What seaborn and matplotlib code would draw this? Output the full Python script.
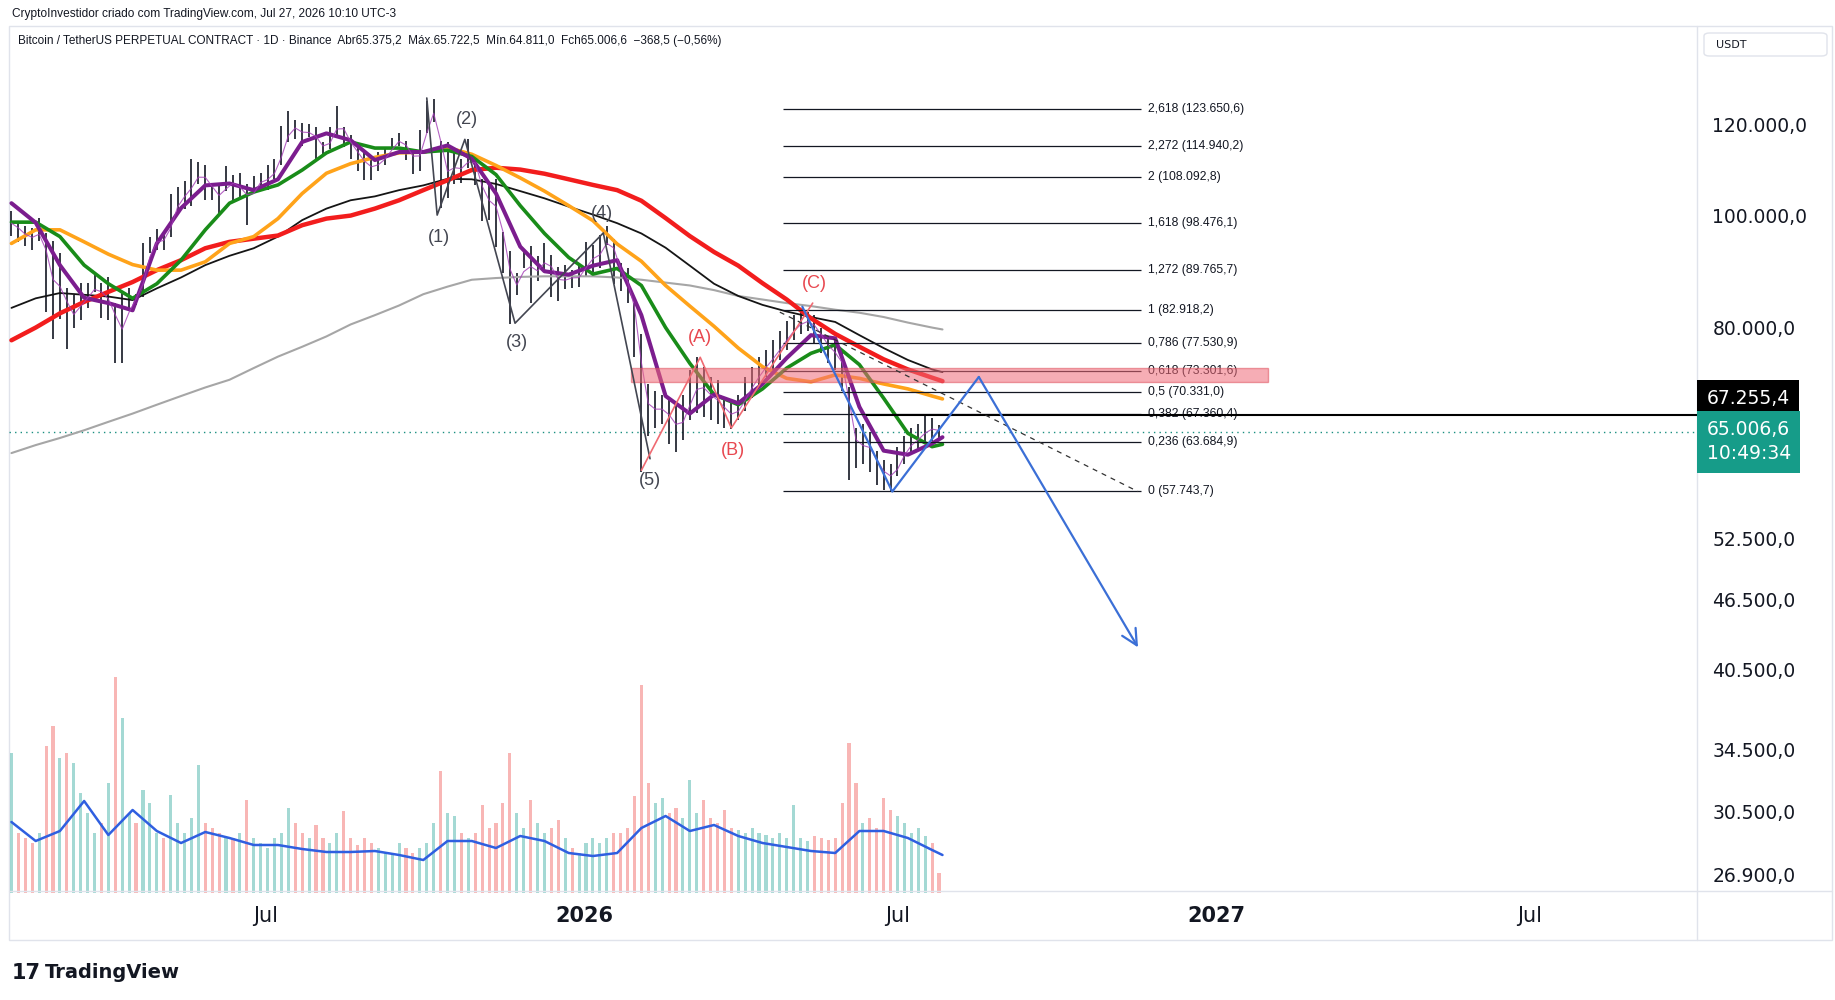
import numpy as np
import pandas as pd
import seaborn as sns
import matplotlib.pyplot as plt
import matplotlib.dates as mdates
import matplotlib.transforms as mtransforms
from matplotlib.patches import Rectangle, FancyBboxPatch
from matplotlib.lines import Line2D
from matplotlib.ticker import NullLocator

# ---------------- data ----------------
# price bars, one every 4 days, thousand USDT
BAR_START = "2025-02-04"
bar_high = [
    101.0, 98.5, 98.0, 97.5, 99.5, 96.5, 95.0, 92.8, 86.5, 85.3,
    87.4, 87.5, 88.8, 87.5, 88.5, 84.0, 85.9, 86.5, 85.6, 94.7,
    95.8, 97.4, 96.5, 104.3, 105.8, 107.1, 111.9, 111.3, 110.7, 106.8,
    106.0, 110.4, 108.5, 108.9, 106.5, 108.1, 108.8, 110.5, 111.9, 119.5,
    123.2, 120.9, 120.2, 120.0, 119.2, 115.8, 119.3, 124.5, 119.2, 117.4,
    115.6, 113.5, 112.6, 113.4, 114.5, 116.8, 117.9, 116.0, 114.0, 118.7,
    125.7, 126.2, 116.0, 115.9, 114.0, 112.0, 116.4, 111.6, 107.5, 106.7,
    107.5, 96.8, 93.2, 89.2, 93.1, 94.2, 92.3, 94.6, 92.5, 90.3,
    90.6, 89.7, 90.4, 94.8, 94.4, 96.2, 97.9, 95.5, 91.0, 90.0,
    84.0, 79.0, 71.5, 70.5, 70.0, 69.5, 68.5, 70.0, 73.5, 75.4,
    74.0, 72.5, 72.0, 69.5, 69.0, 70.0, 72.5, 74.0, 75.5, 76.5,
    78.0, 79.5, 81.0, 82.0, 82.9, 82.5, 82.0, 80.0, 78.5, 78.0,
    76.5, 71.0, 65.5, 66.0, 65.0, 62.5, 61.5, 61.0, 63.0, 64.5,
    65.5, 66.0, 67.3, 66.8, 65.9,
]
bar_low = [
    96.0, 94.8, 94.1, 93.4, 95.0, 82.5, 78.2, 81.4, 76.6, 80.0,
    81.2, 83.2, 85.8, 81.6, 81.2, 74.5, 74.6, 83.0, 83.6, 85.0,
    92.8, 93.4, 93.4, 95.8, 101.0, 101.4, 102.0, 106.6, 103.1, 103.2,
    100.4, 105.0, 102.8, 103.4, 98.2, 105.2, 105.2, 105.2, 107.5, 110.5,
    115.7, 116.5, 114.8, 117.0, 112.0, 112.5, 114.3, 117.2, 114.7, 112.0,
    109.3, 107.4, 107.3, 109.3, 110.6, 114.3, 114.8, 111.7, 108.6, 109.2,
    118.0, 120.6, 101.5, 103.5, 106.6, 106.7, 110.0, 106.3, 98.9, 99.2,
    94.0, 89.2, 80.6, 85.3, 90.1, 84.0, 87.8, 89.3, 85.0, 84.4,
    86.4, 86.6, 86.8, 88.5, 89.3, 90.0, 94.4, 87.3, 86.0, 84.0,
    75.5, 60.0, 64.5, 65.5, 66.0, 63.5, 62.4, 64.0, 66.5, 67.5,
    67.0, 66.5, 66.0, 65.5, 65.3, 66.5, 67.8, 69.5, 71.0, 72.5,
    73.5, 75.0, 76.5, 78.0, 79.0, 79.5, 77.5, 76.0, 74.5, 73.5,
    70.5, 59.0, 60.5, 61.0, 60.0, 58.5, 57.9, 57.7, 59.5, 61.0,
    62.0, 62.5, 63.5, 63.8, 64.2,
]
# relative volume (largest day inside each 4-day bar)
bar_volume = [
    140, 60, 55, 50, 60, 147, 167, 135, 140, 130,
    100, 80, 60, 70, 110, 216, 175, 80, 70, 103,
    90, 60, 55, 98, 70, 60, 75, 128, 70, 65,
    60, 55, 55, 60, 93, 55, 50, 45, 55, 60,
    85, 70, 60, 55, 68, 55, 50, 60, 82, 55,
    48, 55, 50, 45, 40, 40, 50, 45, 40, 45,
    50, 70, 122, 80, 77, 60, 55, 60, 88, 65,
    70, 90, 140, 80, 65, 93, 70, 60, 65, 73,
    55, 45, 40, 50, 55, 50, 55, 60, 60, 65,
    97, 208, 110, 90, 95, 80, 85, 75, 113, 80,
    93, 75, 70, 83, 65, 63, 60, 65, 60, 58,
    55, 60, 55, 88, 55, 52, 57, 55, 53, 55,
    90, 150, 110, 70, 75, 65, 95, 83, 77, 70,
    60, 65, 57, 50, 20,
]

# moving averages sampled every 14 days from MA_START, plus the last day
MA_START = "2025-02-04"
LAST_DAY = "2026-07-27"
ma_purple = [102.5, 98.6, 90.6, 84.9, 84.0, 82.8, 94.6, 101.5, 106.2, 106.6,
             105.2, 107.5, 115.8, 117.8, 116.2, 111.7, 113.5, 113.5, 115.0, 112.0,
             104.5, 94.0, 89.5, 88.9, 90.5, 91.5, 82.0, 69.8, 67.4, 70.0,
             68.8, 71.5, 75.3, 78.8, 78.3, 68.3, 62.6, 62.1, 63.5, 64.3]
ma_green = [98.7, 98.7, 95.9, 90.6, 87.3, 84.8, 87.3, 91.5, 97.2, 102.5,
            104.8, 106.3, 109.5, 113.3, 115.8, 114.4, 114.4, 113.5, 113.9, 112.5,
            108.5, 102.0, 96.5, 92.0, 89.0, 90.0, 87.0, 80.0, 74.5, 70.0,
            68.6, 70.8, 73.8, 76.0, 77.3, 74.3, 69.5, 64.8, 63.1, 63.4]
ma_orange = [94.6, 97.2, 97.2, 94.9, 92.6, 90.7, 89.7, 89.7, 91.2, 94.6,
             95.9, 99.4, 104.5, 108.8, 110.9, 112.3, 113.3, 113.5, 114.5, 113.0,
             110.5, 107.8, 105.0, 102.0, 99.0, 94.5, 91.3, 87.0, 83.5, 80.2,
             76.8, 74.0, 72.3, 71.8, 72.8, 72.3, 71.5, 70.8, 69.8, 69.4]
ma_red = [78.0, 80.0, 82.3, 84.2, 85.9, 87.6, 89.7, 91.5, 93.7, 94.9,
          95.5, 96.1, 98.1, 99.4, 100.0, 101.4, 103.1, 105.2, 107.3, 109.5,
          110.0, 109.6, 108.7, 107.5, 106.3, 105.2, 103.0, 99.5, 96.0, 93.0,
          90.5, 87.4, 84.6, 81.5, 79.0, 77.0, 75.1, 73.6, 72.4, 71.9]
ma_black = [83.2, 84.8, 85.7, 85.4, 85.1, 84.5, 86.5, 88.4, 90.6, 92.3,
            93.7, 95.9, 99.1, 101.4, 103.1, 103.9, 105.2, 106.2, 107.6, 107.5,
            106.5, 105.0, 103.5, 101.8, 100.2, 98.5, 96.5, 93.8, 90.5, 87.3,
            85.2, 83.7, 82.6, 81.7, 80.9, 78.8, 76.8, 75.0, 73.6, 73.2]
ma_grey = [62.3, 63.3, 64.2, 65.2, 66.3, 67.4, 68.6, 69.8, 71.0, 72.1,
           73.8, 75.5, 77.0, 78.6, 80.5, 82.0, 83.6, 85.5, 86.8, 88.0,
           88.3, 88.5, 88.6, 88.6, 88.6, 88.4, 88.0, 87.5, 87.0, 86.2,
           85.2, 84.6, 84.0, 83.5, 82.9, 82.4, 81.7, 80.8, 80.0, 79.7]
vol_ma = [71, 52, 62, 92, 58, 83, 62, 50, 61, 55,
          48, 48, 44, 41, 41, 42, 38, 33, 52, 52,
          45, 57, 52, 40, 37, 40, 65, 77, 62, 68,
          57, 50, 46, 42, 40, 62, 62, 55, 43, 38]

# fibonacci extension
fib_ratio = [2.618, 2.272, 2, 1.618, 1.272, 1, 0.786, 0.618, 0.5, 0.382, 0.236, 0]
fib_price = [123650.6, 114940.2, 108092.8, 98476.1, 89765.7, 82918.2,
             77530.9, 73301.6, 70331.0, 67360.4, 63684.9, 57743.7]
FIB_START, FIB_END, FIB_LABEL = "2026-04-26", "2026-11-19", "2026-11-23"
zone_dates = ["2026-01-28", "2027-01-31"]
zone_prices = [71800, 73800]

# elliott count and projection drawings
wave_dates = ["2025-10-02", "2025-10-08", "2025-10-24", "2025-11-22", "2026-01-12", "2026-02-08"]
wave_prices = [126400, 100100, 116400, 80700, 96600, 61600]
wave_text = ["(1)", "(2)", "(3)", "(4)", "(5)"]
wave_text_dates = ["2025-10-09", "2025-10-25", "2025-11-23", "2026-01-11", "2026-02-08"]
wave_text_prices = [95800, 121200, 77600, 100500, 59000]
abc_dates = ["2026-02-03", "2026-03-09", "2026-03-27", "2026-05-13"]
abc_prices = [60200, 75400, 65500, 84000]
abc_text = ["(A)", "(B)", "(C)"]
abc_text_dates = ["2026-03-09", "2026-03-28", "2026-05-14"]
abc_text_prices = [78500, 62600, 87400]
proj_dates = ["2026-05-07", "2026-06-28", "2026-08-17", "2026-11-17"]
proj_prices = [83400, 57700, 72500, 42300]
trend_dates = ["2026-04-24", "2026-11-17"]
trend_prices = [82500, 57700]
ray_start, ray_price = "2026-06-13", 67255.4
last_price = 65006.6
countdown = "10:49:34"

price_ticks = [120000, 100000, 80000, 52500, 46500, 40500, 34500, 30500, 26900]
time_ticks = ["2025-07-01", "2026-01-01", "2026-07-01", "2027-01-01", "2027-07-01"]
time_labels = ["Jul", "2026", "Jul", "2027", "Jul"]


def br(v):
    # 123650.6 -> 123.650,6
    return f"{v:,.1f}".replace(",", " ").replace(".", ",").replace(" ", ".")


def dn(s):
    return mdates.date2num(pd.Timestamp(s))


# ---------------- figure ----------------
sns.set_theme(style="white")
plt.rcParams['font.family'] = ['DejaVu Sans']
NARROW = ['Liberation Sans Narrow', 'Liberation Sans', 'DejaVu Sans']
INK = '#131722'

W, H = 1835, 1000
fig = plt.figure(figsize=(W / 100, H / 100), dpi=100, facecolor='white')
L, R, T, B = 9, 1697, 26, 893
rect = [L / W, 1 - B / H, (R - L) / W, (B - T) / H]
ax = fig.add_axes(rect)
axv = fig.add_axes(rect, sharex=ax)
ax.set_zorder(2)
axv.set_zorder(1)
ax.patch.set_visible(False)

bars = pd.DataFrame({
    'date': pd.date_range(BAR_START, periods=len(bar_high), freq='4D'),
    'high': np.array(bar_high) * 1000,
    'low': np.array(bar_low) * 1000,
    'volume': bar_volume,
})
bars['mid'] = (bars['high'] + bars['low']) / 2
bars['fast'] = bars['mid'].rolling(2, min_periods=1).mean()
bars['up'] = bars['mid'].diff().fillna(0) >= 0

ma_dates = list(pd.date_range(MA_START, periods=len(ma_purple) - 1, freq='14D')) + [pd.Timestamp(LAST_DAY)]
ma = pd.DataFrame({'date': ma_dates})
for name, vals in [('purple', ma_purple), ('green', ma_green), ('orange', ma_orange),
                   ('red', ma_red), ('black', ma_black), ('grey', ma_grey)]:
    ma[name] = np.array(vals) * 1000
ma['vol'] = vol_ma

# --- volume pane (bottom of the same chart) ---
axv.bar(bars['date'], bars['volume'], width=1.8, linewidth=0, alpha=0.42,
        color=np.where(bars['up'], '#26a69a', '#ef5350'))
sns.lineplot(data=ma, x='date', y='vol', ax=axv, color='#2f5fe0', linewidth=1.8)
axv.set_ylim(0, B - T)
axv.axis('off')

# --- price ---
ax.set_yscale('log')
ax.vlines(bars['date'], bars['low'], bars['high'], color=INK, linewidth=1.2, zorder=3)

for col, color, lw in [('grey', '#a6a6a6', 1.5), ('black', '#151515', 1.3), ('red', '#f21d1d', 3.2),
                       ('orange', '#ffa31a', 2.6), ('green', '#198c19', 2.6), ('purple', '#7b1d8e', 2.9)]:
    sns.lineplot(data=ma, x='date', y=col, ax=ax, color=color, linewidth=lw, zorder=4)
sns.lineplot(data=bars, x='date', y='fast', ax=ax, color='#a23ab5', linewidth=0.8, alpha=0.8, zorder=4)

# fibonacci levels
ax.hlines(fib_price, pd.Timestamp(FIB_START), pd.Timestamp(FIB_END), color=INK, linewidth=0.9, zorder=5)
for r, p in zip(fib_ratio, fib_price):
    ax.text(dn(FIB_LABEL), p, f"{r:g}".replace('.', ',') + f" ({br(p)})", fontsize=8.7,
            family=NARROW, color=INK, va='center', ha='left', zorder=6)
ax.add_patch(Rectangle((dn(zone_dates[0]), zone_prices[0]), dn(zone_dates[1]) - dn(zone_dates[0]),
                       zone_prices[1] - zone_prices[0], facecolor='#f06b78', alpha=0.55,
                       edgecolor='#e0505e', linewidth=1, zorder=6))

# horizontal ray and last price line
x_right = pd.Timestamp('2027-10-06')
ax.hlines(ray_price, pd.Timestamp(ray_start), x_right, color='black', linewidth=1.5, zorder=6)
ax.axhline(last_price, color='#1a8f80', linewidth=1, linestyle=(0, (1, 3)), zorder=2)

# wave count
ax.plot(pd.to_datetime(wave_dates), wave_prices, color='#434651', linewidth=1.2, zorder=6)
ax.plot(pd.to_datetime(abc_dates), abc_prices, color='#ef6a72', linewidth=1.2, zorder=6)
for t, d, p in zip(wave_text, wave_text_dates, wave_text_prices):
    ax.text(dn(d), p, t, fontsize=13, family=NARROW, color='#434651', ha='center', va='center', zorder=7)
for t, d, p in zip(abc_text, abc_text_dates, abc_text_prices):
    ax.text(dn(d), p, t, fontsize=13, family=NARROW, color='#e8474f', ha='center', va='center', zorder=7)

# projection path + dashed trend line
ax.plot(pd.to_datetime(proj_dates[:3]), proj_prices[:3], color='#3b6fd6', linewidth=1.6, zorder=7)
ax.annotate('', xy=(dn(proj_dates[3]), proj_prices[3]), xytext=(dn(proj_dates[2]), proj_prices[2]),
            arrowprops=dict(arrowstyle='->', color='#3b6fd6', lw=1.6, mutation_scale=28,
                            shrinkA=0, shrinkB=0), zorder=7)
ax.plot(pd.to_datetime(trend_dates), trend_prices, color='#333333', linewidth=0.9,
        linestyle=(0, (4, 4)), zorder=6)

# axes cosmetics
ax.set_ylim(25930, 145900)
ax.set_xlim(pd.Timestamp('2025-02-02 14:00'), x_right)
ax.set_xlabel('')
ax.set_ylabel('')
ax.yaxis.tick_right()
ax.set_yticks(price_ticks, labels=[br(v) for v in price_ticks])
ax.yaxis.set_minor_locator(NullLocator())
ax.tick_params(axis='y', which='both', length=0, pad=11, labelsize=13.5, labelcolor=INK)
ax.set_xticks([dn(d) for d in time_ticks], labels=time_labels)
ax.tick_params(axis='x', length=0, pad=9, labelsize=15, labelcolor=INK)
for lbl in ax.get_xticklabels():
    if lbl.get_text() in ('2026', '2027'):
        lbl.set_fontweight('bold')
for s in ax.spines.values():
    s.set_visible(False)

# price scale labels
trans = mtransforms.blended_transform_factory(ax.transAxes, ax.transData)
ax.annotate(br(ray_price), xy=(1, ray_price), xycoords=trans, xytext=(7, 11.5),
            textcoords='offset points', va='center', ha='left', fontsize=13.5, color='white',
            bbox=dict(boxstyle='square,pad=0.5', fc='black', ec='none'), annotation_clip=False, zorder=9)
ax.annotate(br(last_price) + "\n" + countdown, xy=(1, last_price), xycoords=trans, xytext=(7, 8.5),
            textcoords='offset points', va='top', ha='left', fontsize=13.5, color='white', linespacing=1.35,
            bbox=dict(boxstyle='square,pad=0.5', fc='#169c89', ec='none'), annotation_clip=False, zorder=9)

# pane frame and separators
frame = '#e0e3eb'
fig.add_artist(Rectangle((L / W, 1 - 940 / H), (1832 - L) / W, (940 - T) / H, transform=fig.transFigure,
                         fill=False, edgecolor=frame, linewidth=1))
fig.add_artist(Line2D([R / W, R / W], [1 - 940 / H, 1 - T / H], transform=fig.transFigure, color=frame, lw=1))
fig.add_artist(Line2D([L / W, 1832 / W], [1 - 891 / H, 1 - 891 / H], transform=fig.transFigure, color=frame, lw=1))
fig.add_artist(FancyBboxPatch((1704 / W, 1 - 56 / H), 123 / W, 23 / H, transform=fig.transFigure,
                              boxstyle='round,pad=0,rounding_size=0.003', fc='white', ec=frame, lw=1))
fig.text(1716 / W, 1 - 44.5 / H, "USDT", fontsize=8, color=INK, va='center')

# header texts
fig.text(12 / W, 1 - 14 / H, "CryptoInvestidor criado com TradingView.com, Jul 27, 2026 10:10 UTC-3",
         fontsize=8.6, family=NARROW, color=INK, va='center')
fig.text(18 / W, 1 - 41 / H,
         "Bitcoin / TetherUS PERPETUAL CONTRACT · 1D · Binance  Abr65.375,2  Máx.65.722,5  "
         "Mín.64.811,0  Fch65.006,6  −368,5 (−0,56%)",
         fontsize=8.5, family=NARROW, color=INK, va='center')

# footer logo
fig.text(12 / W, 1 - 973 / H, "17", fontsize=15, fontweight='heavy', color=INK, va='center')
fig.text(45 / W, 1 - 973 / H, "TradingView", fontsize=14, fontweight='semibold', color=INK, va='center')

fig.savefig('out.png', dpi=100)
print("saved out.png")
